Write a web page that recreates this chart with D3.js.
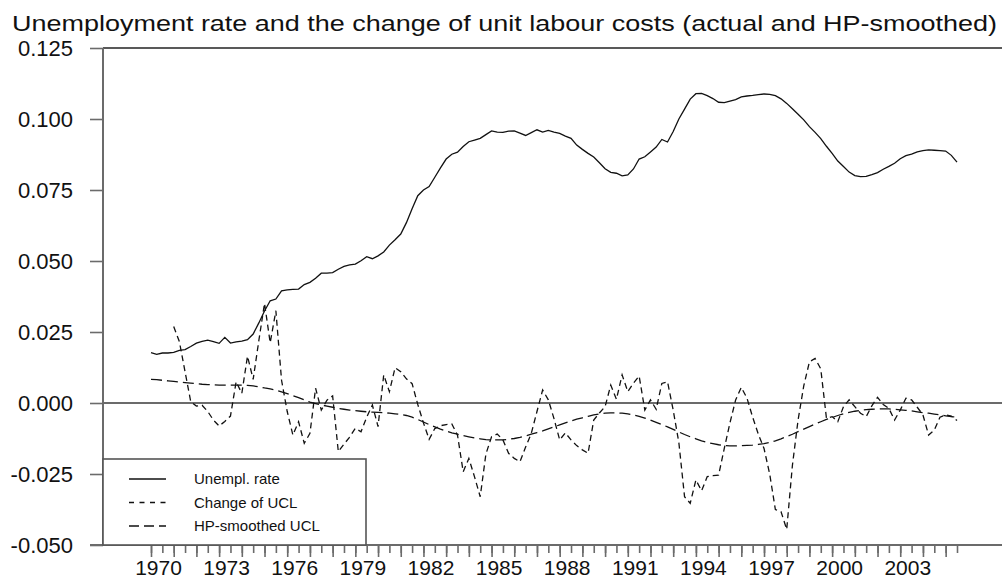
<!DOCTYPE html>
<html>
<head>
<meta charset="utf-8">
<script src="https://cdn.jsdelivr.net/npm/d3@7"></script>
<style>
  body { margin: 0; background: #fff; }
  svg { display: block; font-family: "Liberation Sans", Arial, sans-serif; }
</style>
</head>
<body>
<div id="chart"></div>
<script>
(function() {
    "use strict";

    const title = "Unemployment rate and the change of unit labour costs (actual and HP-smoothed)";
    const seriesNames = ["Unempl. rate", "Change of UCL", "HP-smoothed UCL"];

    // quarterly data, 1970Q1 .. 2005Q3 (values in thousandths, scaled below)
    const firstYear = 1970;
    const unempl = [
        17.7, 17.1, 17.6, 17.6, 17.8, 18.5, 18.8, 19.9, 21.1, 21.7,
        22.1, 21.6, 21.0, 23.1, 21.1, 21.5, 21.8, 22.3, 24.3, 28.2,
        32.4, 36.0, 36.6, 39.5, 39.8, 40.0, 40.1, 41.7, 42.5, 43.9,
        45.7, 45.7, 45.9, 47.1, 48.1, 48.6, 48.9, 50.1, 51.5, 50.8,
        51.8, 53.2, 55.6, 57.5, 59.5, 63.5, 68.4, 73.0, 75.0, 76.2,
        79.5, 82.8, 85.9, 87.6, 88.3, 90.3, 92.0, 92.6, 93.2, 94.5,
        95.8, 95.4, 95.3, 95.7, 95.8, 95.0, 94.2, 95.2, 96.2, 95.4,
        96.0, 95.4, 94.9, 94.0, 93.2, 90.8, 89.3, 87.9, 86.6, 84.6,
        82.5, 81.2, 80.9, 80.0, 80.3, 82.4, 85.9, 86.7, 88.4, 90.1,
        92.8, 91.9, 95.6, 100.0, 103.5, 107.0, 108.9, 109.0, 108.2, 107.2,
        105.9, 105.8, 106.3, 106.8, 107.8, 108.1, 108.3, 108.6, 108.8, 108.7,
        108.2, 107.1, 105.5, 103.6, 101.7, 99.7, 97.3, 95.3, 93.1, 90.4,
        87.9, 85.2, 83.3, 81.3, 80.1, 79.7, 79.8, 80.4, 81.1, 82.3,
        83.3, 84.4, 86.0, 87.1, 87.6, 88.4, 88.9, 89.1, 89.0, 88.9,
        88.7, 87.2, 84.8
    ];

    // change of UCL starts one year later (1971Q1)
    const uclStart = 1971;
    const uclChange = [
        26.9, 21.6, 11.0, 0.5, -1.1, -0.8, -3.0, -6.0, -8.1, -6.5,
        -4.6, 7.5, 3.4, 16.5, 8.3, 22.0, 35.1, 21.2, 32.5, 8.0,
        -3.0, -11.3, -6.6, -14.2, -10.7, 5.2, -2.5, 1.0, 2.5, -17.1,
        -14.5, -12.0, -8.9, -10.1, -5.0, -0.7, -8.3, 9.9, 4.0, 12.4,
        11.0, 8.5, 6.8, -0.5, -7.0, -12.8, -9.0, -8.0, -7.6, -7.4,
        -11.3, -24.2, -19.5, -26.0, -33.0, -18.0, -11.9, -10.9, -13.0, -17.7,
        -19.5, -20.7, -15.5, -10.7, -3.0, 4.6, 1.1, -5.5, -13.0, -10.5,
        -13.0, -15.0, -16.5, -17.7, -6.0, -3.5, -1.3, 6.3, 1.3, 9.9,
        4.0, 7.0, 9.5, -2.5, 1.1, -2.2, 6.9, 7.5, -2.5, -14.0,
        -33.0, -35.3, -27.1, -30.9, -25.9, -25.6, -25.4, -16.0, -7.0, 1.1,
        5.5, 1.7, -5.0, -11.0, -16.0, -25.0, -37.5, -38.3, -44.5, -22.0,
        -6.0, 6.0, 14.5, 15.7, 12.0, -5.4, -4.8, -6.6, -1.3, 1.1,
        -1.3, -3.6, -4.8, -1.0, 2.0, -0.5, -1.9, -6.0, -2.5, 1.7,
        1.1, -1.5, -4.2, -11.3, -9.5, -5.0, -4.2, -4.6, -6.2
    ];

    const uclHP = [
        8.3, 8.2, 8.0, 7.8, 7.6, 7.4, 7.2, 7.0, 6.8, 6.6,
        6.5, 6.4, 6.3, 6.3, 6.3, 6.3, 6.3, 6.2, 6.0, 5.7,
        5.3, 5.0, 4.5, 3.9, 3.3, 2.6, 1.9, 1.1, 0.3, -0.2,
        -0.7, -1.1, -1.5, -1.9, -2.2, -2.5, -2.7, -2.9, -3.1, -3.2,
        -3.3, -3.4, -3.6, -3.8, -4.0, -4.4, -5.0, -5.8, -6.7, -7.6,
        -8.4, -9.2, -9.9, -10.5, -11.0, -11.5, -11.9, -12.3, -12.6, -12.9,
        -13.0, -13.0, -13.0, -12.8, -12.5, -12.1, -11.6, -11.0, -10.4, -9.8,
        -9.1, -8.4, -7.7, -7.0, -6.3, -5.7, -5.2, -4.7, -4.2, -3.9,
        -3.6, -3.5, -3.5, -3.6, -3.8, -4.2, -4.7, -5.3, -6.0, -6.8,
        -7.6, -8.4, -9.3, -10.2, -11.1, -11.9, -12.6, -13.3, -13.9, -14.3,
        -14.7, -15.0, -15.1, -15.1, -15.0, -14.9, -14.8, -14.6, -14.3, -13.9,
        -13.3, -12.6, -11.8, -11.0, -10.1, -9.2, -8.3, -7.4, -6.6, -5.8,
        -5.1, -4.4, -3.8, -3.3, -2.9, -2.6, -2.3, -2.2, -2.1, -2.1,
        -2.1, -2.2, -2.4, -2.6, -2.8, -3.1, -3.4, -3.6, -3.9, -4.2,
        -4.5, -4.8, -5.0
    ];

    const yTicks = [-0.050, -0.025, 0.000, 0.025, 0.050, 0.075, 0.100, 0.125];
    const labelYears = [1970, 1973, 1976, 1979, 1982, 1985, 1988, 1991, 1994, 1997, 2000, 2003];
    const lastDate = 2005.5;

    const width = 1002, height = 581;
    const left = 103, right = 1002, top = 48, bottom = 545;
    const axisGray = "#6b6b6b";

    const svg = d3.select("#chart").append("svg")
        .attr("width", width).attr("height", height);

    const x = d3.scaleLinear().domain([firstYear, lastDate]).range([151, 957]);
    const y = d3.scaleLinear().domain([-0.05, 0.125]).range([bottom, top]);

    function toPoints(vals, start) {
        return vals.map((v, i) => ({t: start + i / 4, v: v / 1000}));
    }
    const line = d3.line().x(d => x(d.t)).y(d => y(d.v));

    // title (reference font is wider than Liberation Sans, so stretch it)
    svg.append("text")
        .attr("x", 12).attr("y", 31)
        .attr("font-size", 22)
        .attr("fill", "#111")
        .attr("textLength", 985)
        .attr("lengthAdjust", "spacingAndGlyphs")
        .text(title);

    // frame: top line, zero line
    svg.append("line")
        .attr("x1", left).attr("x2", right).attr("y1", top).attr("y2", top)
        .attr("stroke", "#222").attr("stroke-width", 1.6);
    svg.append("line")
        .attr("x1", left).attr("x2", right).attr("y1", y(0)).attr("y2", y(0))
        .attr("stroke", axisGray).attr("stroke-width", 1.8);

    // y axis
    const fmt = v => d3.format(".3f")(v).replace("\u2212", "-");
    const yAxis = svg.append("g")
        .attr("transform", `translate(${left},0)`)
        .call(d3.axisLeft(y).tickValues(yTicks).tickSize(13).tickPadding(17).tickFormat(fmt));
    yAxis.select(".domain").remove();
    yAxis.selectAll(".tick line").attr("stroke", axisGray).attr("stroke-width", 1.6);
    yAxis.selectAll(".tick text")
        .attr("font-size", 22).attr("fill", "#111")
        .attr("font-family", "Liberation Sans, Arial, sans-serif");
    svg.append("line")
        .attr("x1", left).attr("x2", left).attr("y1", top).attr("y2", bottom)
        .attr("stroke", axisGray).attr("stroke-width", 2);

    // x axis: half-year short ticks, yearly long ticks, labels every 3 years
    const halfYears = d3.range(firstYear, lastDate + 0.01, 0.5);
    const years = d3.range(firstYear, lastDate, 1);
    const xShort = svg.append("g").attr("transform", `translate(0,${bottom})`)
        .call(d3.axisBottom(x).tickValues(halfYears).tickSize(8).tickFormat(""));
    const xLong = svg.append("g").attr("transform", `translate(0,${bottom})`)
        .call(d3.axisBottom(x).tickValues(years).tickSize(12).tickFormat(""));
    const xLab = svg.append("g").attr("transform", `translate(0,${bottom})`)
        .call(d3.axisBottom(x).tickValues(labelYears).tickSize(0).tickPadding(15).tickFormat(d3.format("d")));
    [xShort, xLong, xLab].forEach(g => {
        g.select(".domain").remove();
        g.selectAll(".tick line").attr("stroke", axisGray).attr("stroke-width", 1.6);
    });
    xLab.selectAll(".tick text")
        .attr("dx", 7)
        .attr("font-size", 21).attr("fill", "#111")
        .attr("font-family", "Liberation Sans, Arial, sans-serif");
    svg.append("line")
        .attr("x1", left - 13).attr("x2", right).attr("y1", bottom).attr("y2", bottom)
        .attr("stroke", axisGray).attr("stroke-width", 1.8);

    // series
    const series = [
        {name: seriesNames[0], pts: toPoints(unempl, firstYear), dash: null},
        {name: seriesNames[1], pts: toPoints(uclChange, uclStart), dash: "6,4"},
        {name: seriesNames[2], pts: toPoints(uclHP, firstYear), dash: "11,5"}
    ];
    svg.append("g").selectAll("path")
        .data(series)
        .enter().append("path")
        .attr("d", d => line(d.pts))
        .attr("fill", "none")
        .attr("stroke", "#111")
        .attr("stroke-width", 1.3)
        .attr("stroke-dasharray", d => d.dash);

    // legend
    const lg = svg.append("g");
    lg.append("rect")
        .attr("x", left).attr("y", 459).attr("width", 263).attr("height", bottom - 459)
        .attr("fill", "#fff").attr("stroke", "#555").attr("stroke-width", 1.6);
    const rows = lg.selectAll("g.row").data(series).enter().append("g")
        .attr("class", "row")
        .attr("transform", (d, i) => `translate(0,${479 + i * 23.5})`);
    rows.append("line")
        .attr("x1", 129).attr("x2", 166).attr("y1", 0).attr("y2", 0)
        .attr("stroke", "#111").attr("stroke-width", 1.3)
        .attr("stroke-dasharray", (d, i) => i === 0 ? null : (i === 1 ? "5,5.5" : "10,5"));
    rows.append("text")
        .attr("x", 194).attr("y", 5)
        .attr("font-size", 15).attr("fill", "#111")
        .text(d => d.name);
})();
</script>
</body>
</html>
